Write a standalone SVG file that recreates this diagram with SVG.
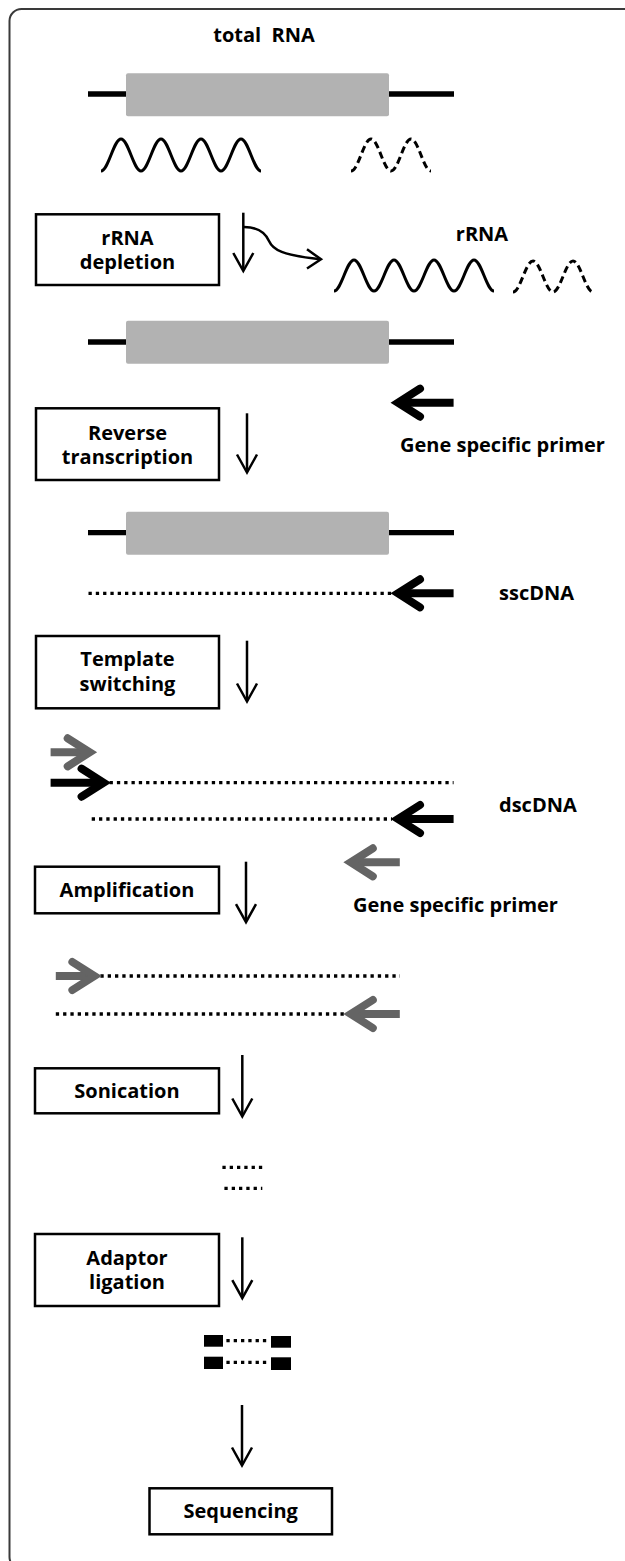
<svg xmlns="http://www.w3.org/2000/svg" xmlns:xlink="http://www.w3.org/1999/xlink" width="625" height="1561" viewBox="0 0 625 1561">
<style>
  text { font-family: "Open Sans", "Noto Sans", "Liberation Sans", sans-serif; font-weight: bold; font-size: 20px; fill: #000; }
  .c { text-anchor: middle; }
  .box { fill: #fff; stroke: #000; stroke-width: 2.5; }
  .rna { fill: #b2b2b2; }
  .bb { stroke: #000; stroke-width: 5.3; fill: none; }
  .wave { fill: none; stroke: #000; stroke-width: 3; stroke-linecap: butt; }
  .dash { stroke-dasharray: 7 4; }
  .dot { fill: none; stroke: #000; stroke-width: 3.3; stroke-dasharray: 3.3 4; }
  .thin { fill: none; stroke: #000; stroke-width: 2.5; }
  .thick { fill: none; stroke-width: 8; }
  .blk { stroke: #000; }
  .gry { stroke: #646464; }
  .adp { fill: #000; }
</style>
<defs>
  <polyline id="headL" points="22,-14 0,0 22,14" fill="none" stroke-width="8" stroke-linecap="round" stroke-linejoin="miter" stroke-miterlimit="10"/>
  <polyline id="headD" points="-10,-18 0,0 10,-18" fill="none" stroke="#000" stroke-width="2.5" stroke-linejoin="miter" stroke-miterlimit="10"/>
</defs>

<!-- outer frame -->
<rect x="9.5" y="9" width="640" height="1560" rx="12" fill="none" stroke="#3a3a3a" stroke-width="2"/>

<!-- molecules -->
<g id="total-rna">
  <text class="c" x="264" y="42" xml:space="preserve">total  RNA</text>
  <line class="bb" x1="88" y1="94" x2="454" y2="94"/>
  <rect class="rna" x="126" y="73.3" width="263" height="43" rx="2"/>
  <path class="wave" d="M101,171 C108.3,171 113.7,139 121,139 S133.7,171 141,171 S153.7,139 161,139 S173.7,171 181,171 S193.7,139 201,139 S213.7,171 221,171 S233.7,139 241,139 S253.7,171 261,171"/>
  <path class="wave dash" d="M351,171 C358.3,171 363.7,139 371,139 S383.7,171 391,171 S403.7,139 411,139 S423.7,171 431,171"/>
</g>

<g id="rrna-removed">
  <text class="c" x="482" y="241">rRNA</text>
  <path class="wave" d="M334,291 C341.3,291 346.7,260 354,260 S366.7,291 374,291 S386.7,260 394,260 S406.7,291 414,291 S426.7,260 434,260 S446.7,291 454,291 S466.7,260 474,260 S486.7,291 494,291"/>
  <path class="wave dash" d="M513,292 C520.3,292 525.7,261 533,261 S545.7,292 553,292 S565.7,261 573,261 S585.7,292 593,292"/>
</g>

<g id="mrna-1">
  <line class="bb" x1="88" y1="342" x2="454" y2="342"/>
  <rect class="rna" x="126" y="320.7" width="263" height="43" rx="2"/>
</g>

<g id="gsp-1">
  <text x="400" y="452">Gene specific primer</text>
</g>

<g id="mrna-2">
  <line class="bb" x1="88" y1="532.7" x2="454" y2="532.7"/>
  <rect class="rna" x="126" y="511.7" width="263" height="43" rx="2"/>
</g>

<g id="sscdna">
  <line class="dot" x1="88.5" y1="593.3" x2="392" y2="593.3"/>
  <text x="499" y="600">sscDNA</text>
</g>

<g id="dscdna">
  <line class="dot" x1="109.6" y1="782.7" x2="453.6" y2="782.7"/>
  <line class="dot" x1="91.7" y1="819" x2="392" y2="819"/>
  <text x="499" y="812">dscDNA</text>
</g>

<g id="gsp-2">
  <text x="353" y="912">Gene specific primer</text>
</g>

<g id="amplicon">
  <line class="dot" x1="100.4" y1="976" x2="400" y2="976"/>
  <line class="dot" x1="55.8" y1="1014" x2="344.8" y2="1014"/>
</g>

<g id="fragments">
  <line class="dot" x1="222.4" y1="1167.3" x2="262.3" y2="1167.3"/>
  <line class="dot" x1="224.4" y1="1188.3" x2="262.3" y2="1188.3"/>
</g>

<g id="ligated">
  <rect class="adp" x="204" y="1335" width="19" height="11.7"/>
  <line class="dot" x1="226.4" y1="1340.7" x2="266.2" y2="1340.7"/>
  <rect class="adp" x="271" y="1336" width="20" height="11.7"/>
  <rect class="adp" x="204" y="1356.7" width="19" height="12.3"/>
  <line class="dot" x1="226.4" y1="1362.3" x2="266.2" y2="1362.3"/>
  <rect class="adp" x="271" y="1357.3" width="20" height="12.7"/>
</g>

<!-- step boxes -->
<g id="rrna-depletion">
  <rect class="box" x="36" y="214.3" width="183" height="70.7"/>
  <text class="c" x="127.5" y="245">rRNA</text>
  <text class="c" x="127.5" y="269">depletion</text>
</g>
<g id="reverse-transcription">
  <rect class="box" x="36" y="408.3" width="183" height="71.7"/>
  <text class="c" x="127.5" y="439.5">Reverse</text>
  <text class="c" x="127.5" y="464">transcription</text>
</g>
<g id="template-switching">
  <rect class="box" x="36" y="636" width="183" height="72.3"/>
  <text class="c" x="127.5" y="666">Template</text>
  <text class="c" x="127.5" y="690.5">switching</text>
</g>
<g id="amplification">
  <rect class="box" x="35" y="866.7" width="184" height="46.6"/>
  <text class="c" x="127" y="896.7">Amplification</text>
</g>
<g id="sonication">
  <rect class="box" x="35" y="1068.3" width="184" height="45"/>
  <text class="c" x="127" y="1098.3">Sonication</text>
</g>
<g id="adaptor-ligation">
  <rect class="box" x="35" y="1234" width="184" height="72"/>
  <text class="c" x="127" y="1265">Adaptor</text>
  <text class="c" x="127" y="1289.3">ligation</text>
</g>
<g id="sequencing">
  <rect class="box" x="149.5" y="1488.3" width="182.5" height="46"/>
  <text class="c" x="240.7" y="1518.3">Sequencing</text>
</g>

<!-- connectors -->
<g id="connectors">
  <!-- process arrows -->
  <line class="thin" x1="243.3" y1="212.7" x2="243.3" y2="270"/>
  <use xlink:href="#headD" href="#headD" transform="translate(243.3,271)"/>
  <path class="thin" d="M244,227 C258,227 265,232 269,241 C273,250 282,255 320,259.3"/>
  <polyline class="thin" points="307,249.3 321,259.3 307,268.5" stroke-linejoin="miter"/>

  <line class="thin" x1="247" y1="413.3" x2="247" y2="471"/>
  <use xlink:href="#headD" href="#headD" transform="translate(247,472.5)"/>

  <line class="thin" x1="247" y1="640.7" x2="247" y2="700"/>
  <use xlink:href="#headD" href="#headD" transform="translate(247,701.5)"/>

  <line class="thin" x1="246" y1="861.7" x2="246" y2="921"/>
  <use xlink:href="#headD" href="#headD" transform="translate(246,922.2)"/>

  <line class="thin" x1="242.3" y1="1055" x2="242.3" y2="1115"/>
  <use xlink:href="#headD" href="#headD" transform="translate(242.3,1116.5)"/>

  <line class="thin" x1="242.3" y1="1237.3" x2="242.3" y2="1297"/>
  <use xlink:href="#headD" href="#headD" transform="translate(242.3,1298.2)"/>

  <line class="thin" x1="242" y1="1405" x2="242" y2="1464"/>
  <use xlink:href="#headD" href="#headD" transform="translate(242,1465.5)"/>

  <!-- primer arrows -->
  <line class="thick blk" x1="400" y1="402.7" x2="453.6" y2="402.7"/>
  <use class="blk" xlink:href="#headL" href="#headL" transform="translate(398,402.7)"/>

  <line class="thick blk" x1="400" y1="593.3" x2="453.6" y2="593.3"/>
  <use class="blk" xlink:href="#headL" href="#headL" transform="translate(398,593.3)"/>

  <line class="thick gry" x1="50.6" y1="752.3" x2="88" y2="752.3"/>
  <use class="gry" xlink:href="#headL" href="#headL" transform="translate(89.7,752.3) scale(-1,1)"/>

  <line class="thick blk" x1="50.6" y1="782.7" x2="102" y2="782.7"/>
  <use class="blk" xlink:href="#headL" href="#headL" transform="translate(103.6,782.7) scale(-1,1)"/>

  <line class="thick blk" x1="400" y1="819" x2="453.6" y2="819"/>
  <use class="blk" xlink:href="#headL" href="#headL" transform="translate(398,819)"/>

  <line class="thick gry" x1="352.8" y1="862.3" x2="399.8" y2="862.3"/>
  <use class="gry" xlink:href="#headL" href="#headL" transform="translate(350.8,862.3)"/>

  <line class="thick gry" x1="55.8" y1="976" x2="92.4" y2="976"/>
  <use class="gry" xlink:href="#headL" href="#headL" transform="translate(94.4,976) scale(-1,1)"/>

  <line class="thick gry" x1="352.8" y1="1014" x2="399.8" y2="1014"/>
  <use class="gry" xlink:href="#headL" href="#headL" transform="translate(350.8,1014)"/>
</g>
</svg>
